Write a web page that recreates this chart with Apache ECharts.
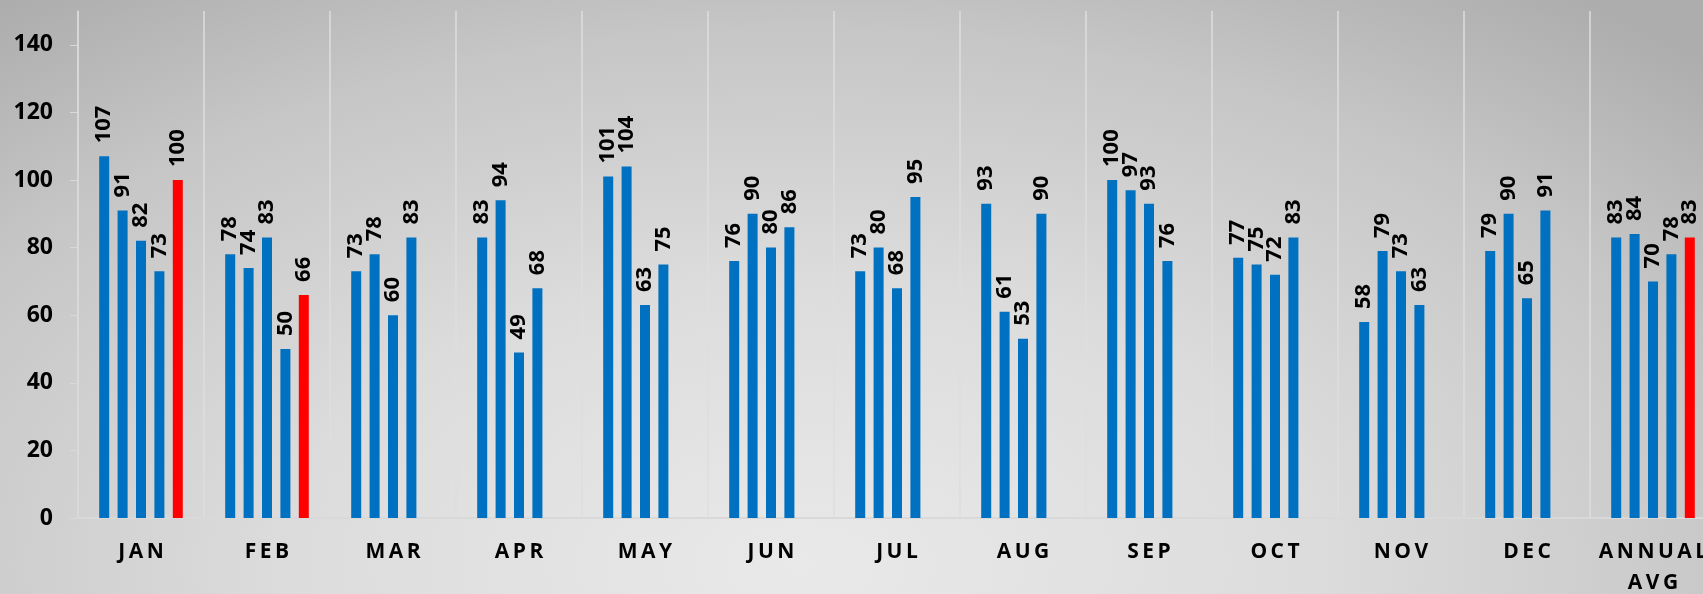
<!DOCTYPE html>
<html>
<head>
<meta charset="utf-8">
<script src="https://cdn.jsdelivr.net/npm/echarts@6/dist/echarts.min.js"></script>
<style>
  html, body { margin: 0; padding: 0; }
  #chart {
    width: 1703px; height: 594px;
    background: radial-gradient(ellipse 75% 120% at 47% 95%, #e9e9e9 0%, #dcdcdc 40%, #c6c6c6 75%, #adadad 100%);
  }
</style>
</head>
<body>
<div id="chart"></div>
<script>
const categories = ['JAN','FEB','MAR','APR','MAY','JUN','JUL','AUG','SEP','OCT','NOV','DEC','ANNUAL AVG'];
const series1 = [107, 78, 73, 83, 101, 76, 73, 93, 100, 77, 58, 79, 83];
const series2 = [91, 74, 78, 94, 104, 90, 80, 61, 97, 75, 79, 90, 84];
const series3 = [82, 83, 60, 49, 63, 80, 68, 53, 93, 72, 73, 65, 70];
const series4 = [73, 50, 83, 68, 75, 86, 95, 90, 76, 83, 63, 91, 78];
const series5 = [100, 66, null, null, null, null, null, null, null, null, null, null, 83];
const yMin = 0, yMax = 150, yInterval = 20;

const chart = echarts.init(document.getElementById('chart'), null, { renderer: 'canvas' });
const FONT = '"Open Sans", "Liberation Sans", sans-serif';

function spaced(name) {
  return name.split(' ').map(w => w.split('').join('\u2009')).join('\n');
}

const labelCfg = {
  show: true,
  position: 'top',
  rotate: 90,
  align: 'left',
  verticalAlign: 'middle',
  distance: 13,
  color: '#000',
  fontWeight: 'bold',
  fontSize: 22,
  fontFamily: FONT
};

function mk(data, color) {
  return {
    type: 'bar',
    data: data,
    barWidth: 10,
    barGap: '84%',
    itemStyle: { color: color },
    label: labelCfg,
    emphasis: { disabled: true },
    animation: false
  };
}

chart.setOption({
  animation: false,
  backgroundColor: 'transparent',
  grid: { left: 78, right: -13, top: 11, bottom: 76, containLabel: false, outerBoundsMode: 'none' },
  xAxis: {
    type: 'category',
    data: categories,
    axisLine: { show: true, lineStyle: { color: '#d9d9d9', width: 2 } },
    axisTick: { show: false },
    splitLine: { show: true, lineStyle: { color: '#dedede', width: 1.5 } },
    axisLabel: {
      formatter: spaced,
      color: '#000',
      fontWeight: 'bold',
      fontSize: 21,
      fontFamily: FONT,
      margin: 19,
      lineHeight: 31,
      interval: 0
    }
  },
  yAxis: {
    type: 'value',
    min: yMin, max: yMax, interval: yInterval,
    axisLine: { show: true, lineStyle: { color: '#d9d9d9', width: 1.5 } },
    axisTick: { show: true, length: 8, lineStyle: { color: '#d9d9d9' } },
    splitLine: { show: false },
    axisLabel: {
      showMaxLabel: false,
      color: '#000',
      fontWeight: 'bold',
      fontSize: 23,
      fontFamily: FONT,
      margin: 25
    }
  },
  series: [
    mk(series1, '#0070C0'),
    mk(series2, '#0070C0'),
    mk(series3, '#0070C0'),
    mk(series4, '#0070C0'),
    mk(series5, '#FF0000')
  ]
});
</script>
</body>
</html>
